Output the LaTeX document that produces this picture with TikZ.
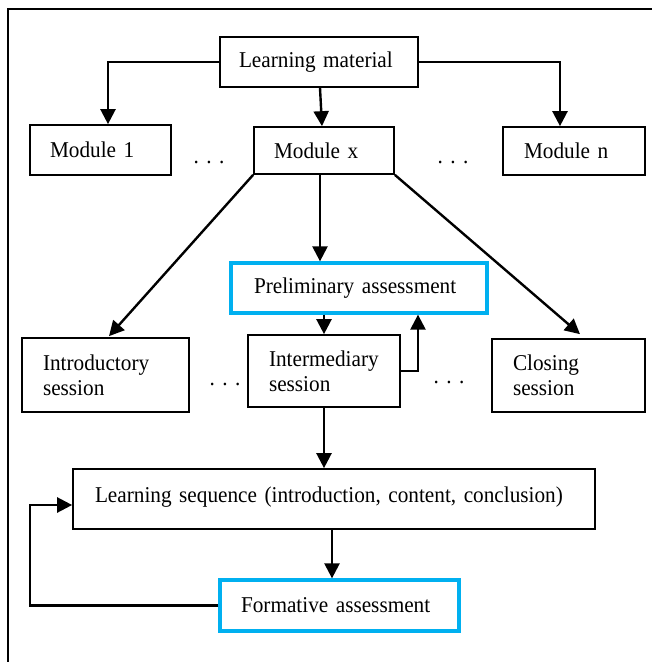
\documentclass[tikz,border=0pt]{standalone}
\usepackage{fontspec}
\setmainfont{Liberation Serif}[FakeStretch=0.94,WordSpace=0.75]
\usetikzlibrary{arrows.meta,calc}
\definecolor{cyanbox}{HTML}{00B0F0}
\begin{document}
\begin{tikzpicture}[x=1pt,y=-1pt,
  every node/.style={font=\fontsize{22.6}{25}\selectfont},
  box/.style={draw=black,line width=1.7pt,rectangle,align=left,inner ysep=0pt},
  cbox/.style={draw=cyanbox,line width=3.3pt,rectangle,align=left,inner ysep=0pt},
  arr/.style={line width=2.4pt,-{Triangle[length=15pt,width=15pt]}},
  dotsnode/.style={inner sep=0pt}
]
\useasboundingbox (0,0) rectangle (652,662);
\draw[line width=1.9pt] (8,662) -- (8,9) -- (652,9);

% nodes
\node[box,minimum height=50pt,inner xsep=19pt,text width=160pt] (lm) at (319,62) {Learning material};
\node[box,minimum height=50pt,inner xsep=20pt,text width=101pt] (m1) at (100.5,150) {Module 1};
\node[box,minimum height=47pt,inner xsep=20pt,text width=100pt] (mx) at (324,150.5) {Module x};
\node[box,minimum height=48pt,inner xsep=21pt,text width=100pt] (mn) at (574,151) {Module n};
\node[cbox,minimum height=50pt,inner xsep=23pt,text width=210pt] (pa) at (359,288) {Preliminary assessment};
\node[box,minimum height=74pt,inner xsep=21pt,text width=125pt] (is) at (105.5,375) {Introductory\\session};
\node[box,minimum height=72pt,inner xsep=21pt,text width=110pt] (ms) at (324,371) {Intermediary\\session};
\node[box,minimum height=73pt,inner xsep=21pt,text width=111pt] (cs) at (568.5,375.5) {Closing\\session};
\node[box,minimum height=60pt,inner xsep=22pt,text width=478pt] (ls) at (334,499) {\raisebox{9pt}{Learning sequence (introduction, content, conclusion)}};
\node[cbox,minimum height=51pt,inner xsep=21pt,text width=197pt] (fa) at (339.5,605.5) {Formative assessment};

\node[dotsnode] (d1) at (209,162) {.\,\,.\,\,.};
\node[dotsnode] (d2) at (453,162) {.\,\,.\,\,.};
\node[dotsnode] (d3) at (225,384) {.\,\,.\,\,.};
\node[dotsnode] (d4) at (449,382) {.\,\,.\,\,.};

\coordinate (loopc) at (30,505);

% connectors
\draw[arr] (lm.west) -| ([xshift=7.5pt]m1.north);
\draw[arr] (lm.east) -| ([xshift=-14pt]mn.north);
\draw[arr] ([xshift=1pt]lm.south) -- ([xshift=-2pt]mx.north);
\draw[arr] (mx.south west) -- ([xshift=3.5pt,yshift=1pt]is.north);
\draw[arr] ([xshift=-4pt]mx.south) -- ([xshift=-4pt]mx.south |- pa.north);
\draw[arr] (mx.south east) -- ([xshift=11.5pt,yshift=4pt]cs.north);
\draw[arr] (ms.north |- pa.south) -- (ms.north);
\draw[arr] (ms.east) -| ([xshift=59pt]pa.south);
\draw[arr] (ms.south) -- (ms.south |- ls.north);
\draw[arr] ([xshift=-2pt]ls.south) -- ([xshift=-2pt]ls.south |- fa.north);
\draw[arr] (fa.west) -| (loopc) -- ([yshift=-6pt]ls.west);
\end{tikzpicture}
\end{document}
